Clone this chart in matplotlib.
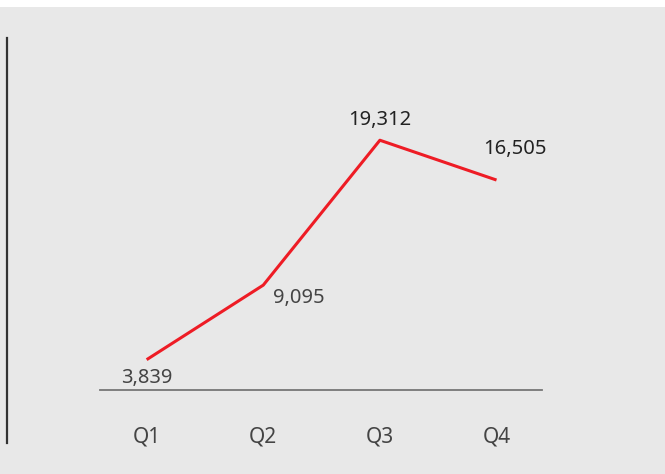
import matplotlib
matplotlib.use('Agg')
import matplotlib.pyplot as plt
from matplotlib.lines import Line2D
from matplotlib.patches import Rectangle

quarters = ['Q1', 'Q2', 'Q3', 'Q4']
values = [3839, 9095, 19312, 16505]
labels = ['3,839', '9,095', '19,312', '16,505']

W, H = 665, 474
fig = plt.figure(figsize=(W / 100, H / 100), dpi=100, facecolor='white')
fig.add_artist(Rectangle((0, 0), 1, 1 - 7 / H, transform=fig.transFigure,
                         facecolor='#e8e8e8', edgecolor='none', zorder=0))

ax = fig.add_axes([100 / W, 1 - 390 / H, 442 / W, 350 / H])
ax.patch.set_alpha(0)
x = list(range(len(quarters)))
ax.plot(x, values, color='#ee1c25', lw=2.2, solid_capstyle='butt')
ax.set_xlim(-0.40, 3.39)
ax.set_ylim(1700, 26380)

for s in ['left', 'right', 'top']:
    ax.spines[s].set_visible(False)
ax.spines['bottom'].set_color('#777777')
ax.spines['bottom'].set_linewidth(1.3)
ax.set_yticks([])
ax.set_xticks(x)
ax.set_xticklabels(quarters, fontsize=15, color='#444444', family='Noto Sans')
ax.tick_params(axis='x', length=0, pad=26)

# value labels: offsets in points (dx, dy), alignment, weight
opts = [((0, -13), 'center', 'normal', '#444444'),
        ((7, -9), 'left', 'normal', '#444444'),
        ((0, 14.5), 'center', 'semibold', '#222222'),
        ((13.5, 22), 'center', 'semibold', '#222222')]
for xi, v, lab, (off, ha, wt, col) in zip(x, values, labels, opts):
    ax.annotate(lab, (xi, v), xytext=off, textcoords='offset points',
                ha=ha, va='center', fontsize=14.5, color=col,
                fontweight=wt, family='Noto Sans')

fig.add_artist(Line2D([6.5 / W, 6.5 / W], [1 - 443 / H, 1 - 38 / H],
                      transform=fig.transFigure, color='#333333', lw=1.6))

fig.savefig('out.png', dpi=100, facecolor='white')
